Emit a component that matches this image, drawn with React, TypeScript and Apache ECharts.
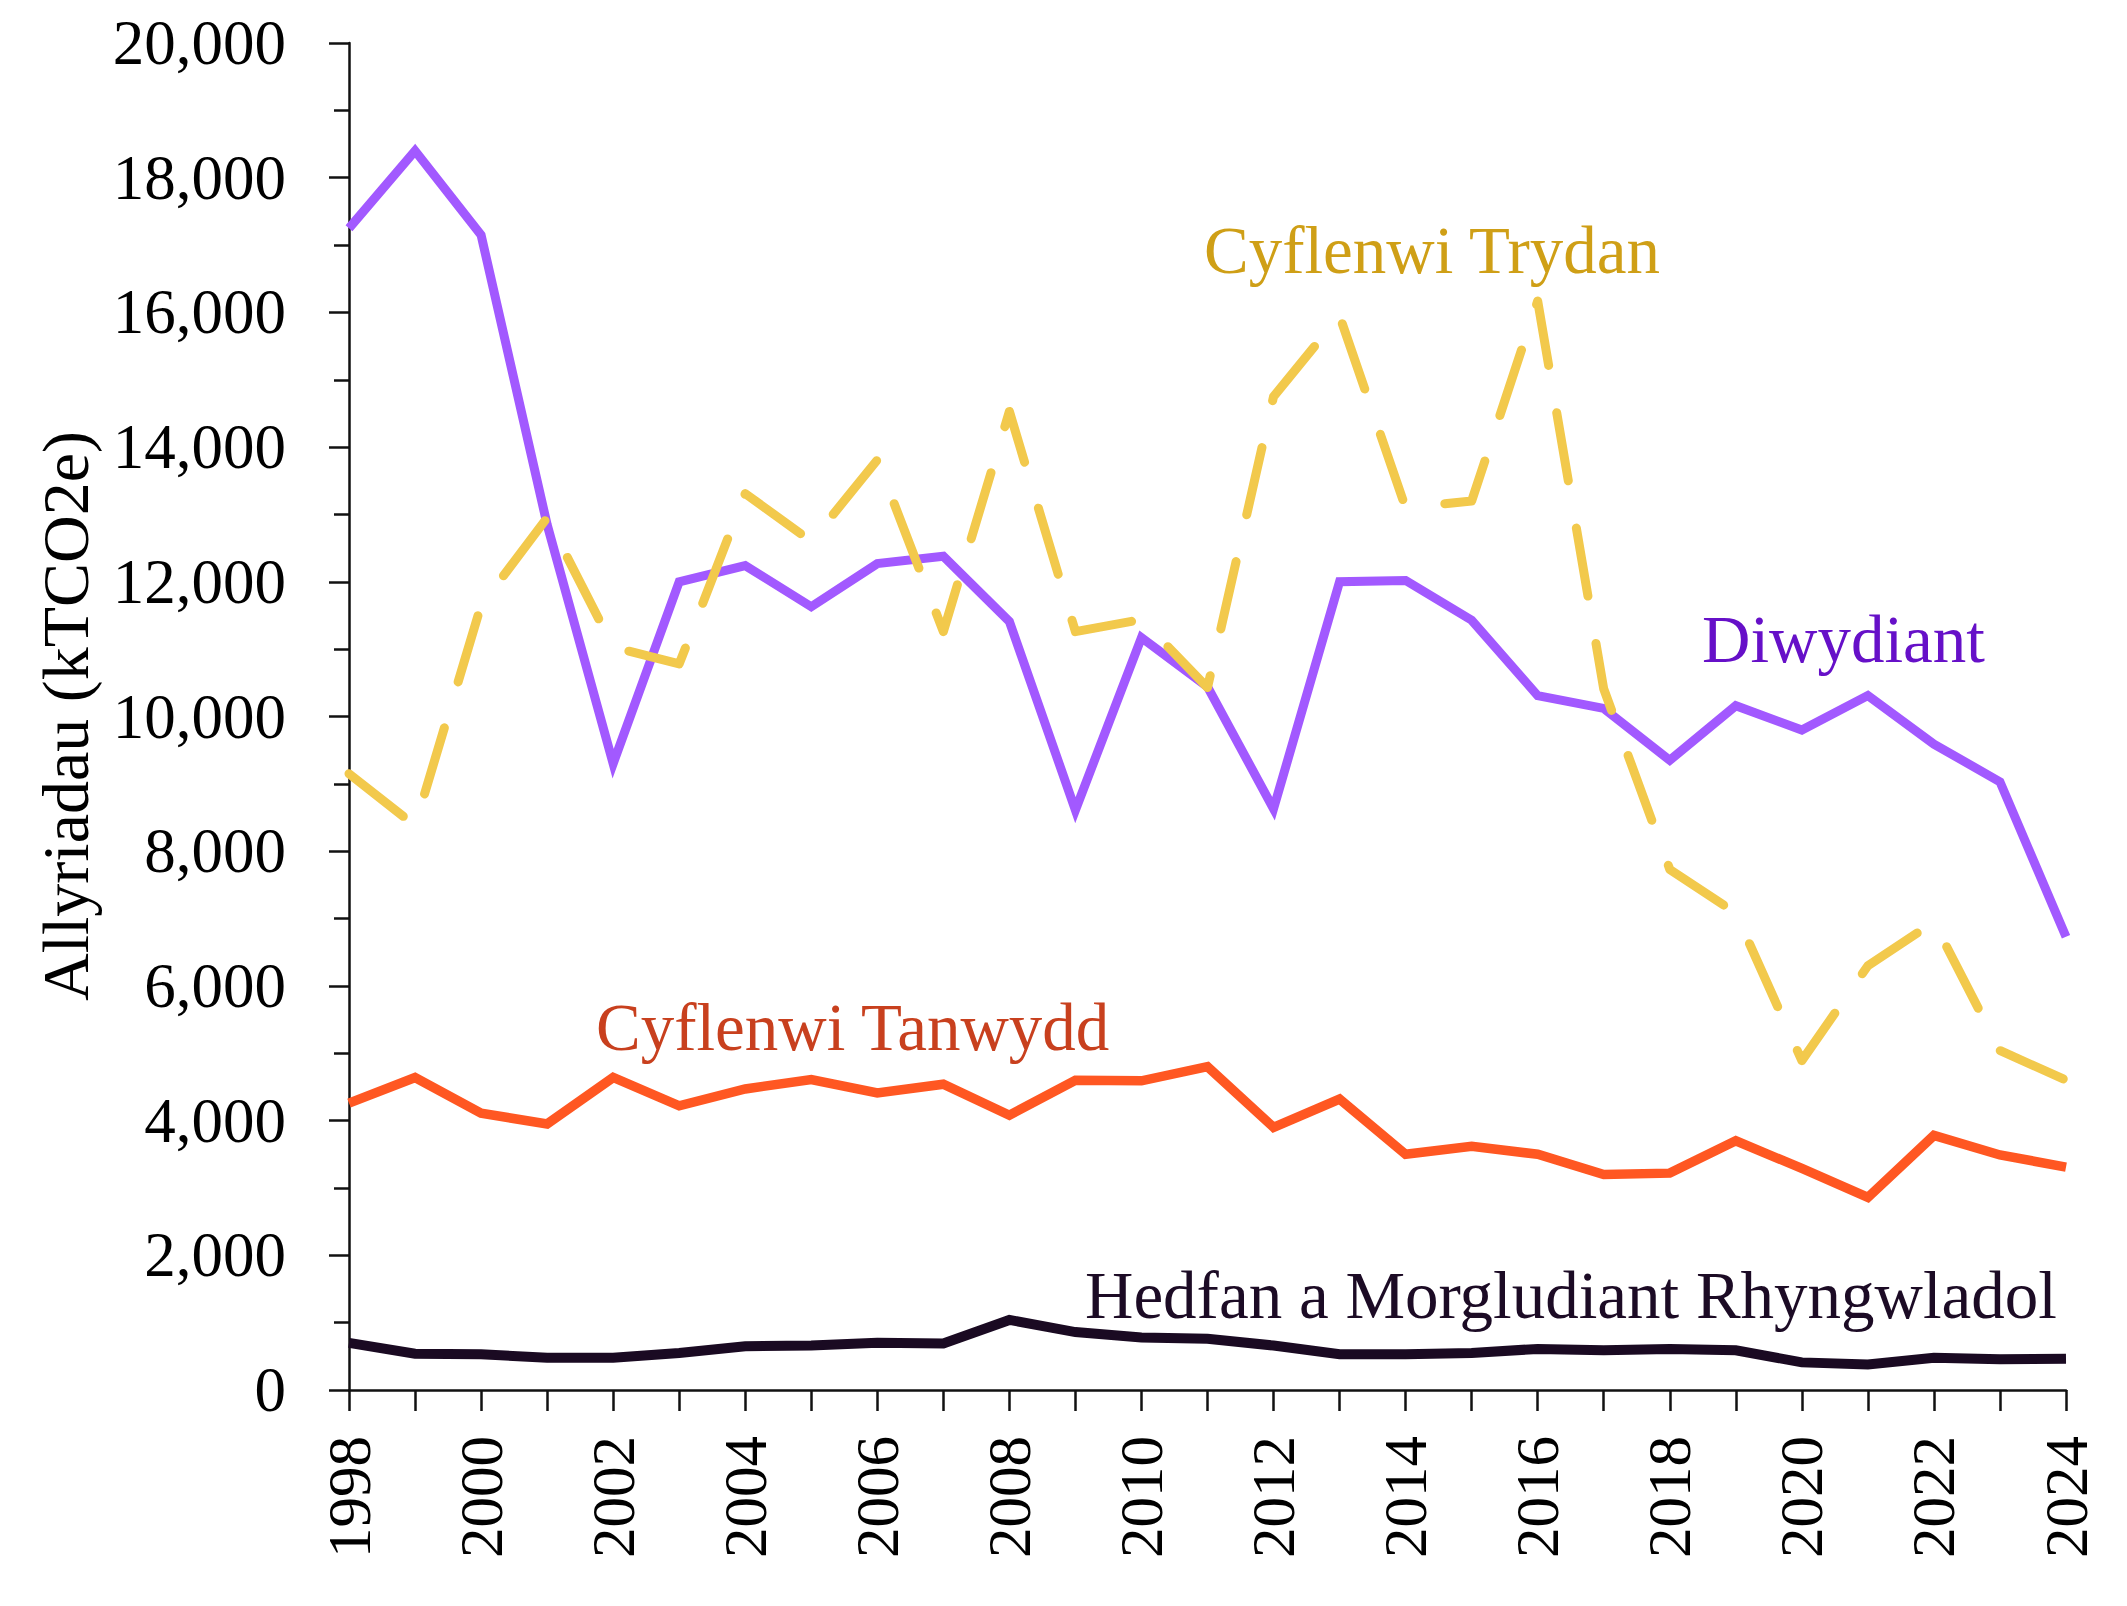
import React, { useEffect, useRef } from "react";
import * as echarts from "echarts";

// Years on the horizontal axis
const years = [
  1998, 1999, 2000, 2001, 2002, 2003, 2004, 2005, 2006, 2007, 2008, 2009, 2010,
  2011, 2012, 2013, 2014, 2015, 2016, 2017, 2018, 2019, 2020, 2021, 2022, 2023,
  2024,
];

// Emissions by sector, kTCO2e
const diwydiant = [
  17250, 18400, 17150, 12850, 9300, 12000, 12240, 11630, 12270, 12380, 11410,
  8610, 11170, 10440, 8630, 12000, 12020, 11430, 10310, 10120, 9350, 10160,
  9800, 10310, 9590, 9030, 6730,
];
const cyflenwiTrydan = [
  9150, 8380, 11650, 12950, 11030, 10780, 13310, 12600, 13810, 11260, 14530,
  11260, 11440, 10430, 14750, 15950, 13100, 13200, 16170, 10410, 7730, 7080,
  4890, 6300, 6950, 5040, 4600,
];
const cyflenwiTanwydd = [
  4260, 4640, 4110, 3950, 4640, 4220, 4470, 4610, 4410, 4540, 4080, 4600, 4590,
  4800, 3900, 4320, 3500, 3620, 3500, 3200, 3220, 3700, 3290, 2860, 3780, 3490,
  3310,
];
const hedfan = [
  700, 540, 530, 480, 480, 550, 650, 660, 700, 690, 1040, 860, 780, 760, 660,
  530, 530, 550, 610, 590, 610, 590, 410, 380, 480, 455, 465,
];

const yAxisTitle = "Allyriadau (kTCO2e)";
const seriesNames = [
  "Diwydiant",
  "Cyflenwi Trydan",
  "Cyflenwi Tanwydd",
  "Hedfan a Morgludiant Rhyngwladol",
];

const FONT = "'Liberation Serif', 'DejaVu Serif', serif";

const pairs = (vals: number[]) => years.map((y, i) => [y, vals[i]]);

export default function App() {
  const ref = useRef<HTMLDivElement>(null);

  useEffect(() => {
    if (!ref.current) return;
    const chart = echarts.init(ref.current, null, { renderer: "svg" });

    const label = (text: string, x: number, y: number, fill: string) => ({
      type: "text",
      x,
      y,
      style: {
        text,
        fill,
        font: `67px ${FONT}`,
        textAlign: "left",
        textVerticalAlign: "middle",
      },
      z: 50,
    });

    chart.setOption({
      animation: false,
      backgroundColor: "#ffffff",
      grid: { left: 349, right: 61, top: 43, bottom: 216, containLabel: false },
      xAxis: {
        type: "value",
        min: 1998,
        max: 2024,
        interval: 2,
        axisLine: { show: true, lineStyle: { color: "#111", width: 2.5 } },
        axisTick: { show: true, length: 21, lineStyle: { color: "#111", width: 2.5 } },
        minorTick: { show: true, splitNumber: 2, length: 21, lineStyle: { color: "#111", width: 2.5 } },
        splitLine: { show: false },
        axisLabel: {
          rotate: 90,
          margin: 46,
          fontSize: 61,
          fontFamily: FONT,
          color: "#000",
          formatter: (v: number) => String(v),
        },
      },
      yAxis: {
        type: "value",
        min: 0,
        max: 20000,
        interval: 2000,
        axisLine: { show: true, lineStyle: { color: "#111", width: 2.5 } },
        axisTick: { show: true, length: 20, lineStyle: { color: "#111", width: 2.5 } },
        minorTick: { show: true, splitNumber: 2, length: 15, lineStyle: { color: "#111", width: 2.5 } },
        splitLine: { show: false },
        axisLabel: {
          margin: 63,
          fontSize: 63,
          fontFamily: FONT,
          color: "#000",
          formatter: (v: number) => v.toLocaleString("en-US"),
        },
      },
      graphic: [
        {
          type: "text",
          x: 65,
          y: 716,
          rotation: Math.PI / 2,
          style: {
            text: yAxisTitle,
            fill: "#000",
            font: `66px ${FONT}`,
            textAlign: "center",
            textVerticalAlign: "middle",
          },
        },
        label(seriesNames[1], 1204, 250, "#CF9F16"),
        label(seriesNames[0], 1702, 639, "#6610C8"),
        label(seriesNames[2], 596, 1027, "#C8401E"),
        label(seriesNames[3], 1085, 1295, "#1C0B25"),
      ],
      series: [
        {
          name: seriesNames[0],
          type: "line",
          data: pairs(diwydiant),
          showSymbol: false,
          lineStyle: { color: "#A259FF", width: 9, join: "miter" },
          z: 3,
        },
        {
          name: seriesNames[1],
          type: "line",
          data: pairs(cyflenwiTrydan),
          showSymbol: false,
          lineStyle: {
            color: "#F2C94C",
            width: 9,
            type: [69, 48],
            cap: "round",
            join: "round",
          },
          z: 4,
        },
        {
          name: seriesNames[2],
          type: "line",
          data: pairs(cyflenwiTanwydd),
          showSymbol: false,
          lineStyle: { color: "#FF5722", width: 9.5, join: "miter" },
          z: 5,
        },
        {
          name: seriesNames[3],
          type: "line",
          data: pairs(hedfan),
          showSymbol: false,
          lineStyle: { color: "#1A0A22", width: 10, join: "miter" },
          z: 6,
        },
      ],
    });

    return () => chart.dispose();
  }, []);

  return (
    <div
      ref={ref}
      style={{ position: "absolute", left: 0, top: 0, width: 2127, height: 1606, background: "#fff" }}
    />
  );
}
